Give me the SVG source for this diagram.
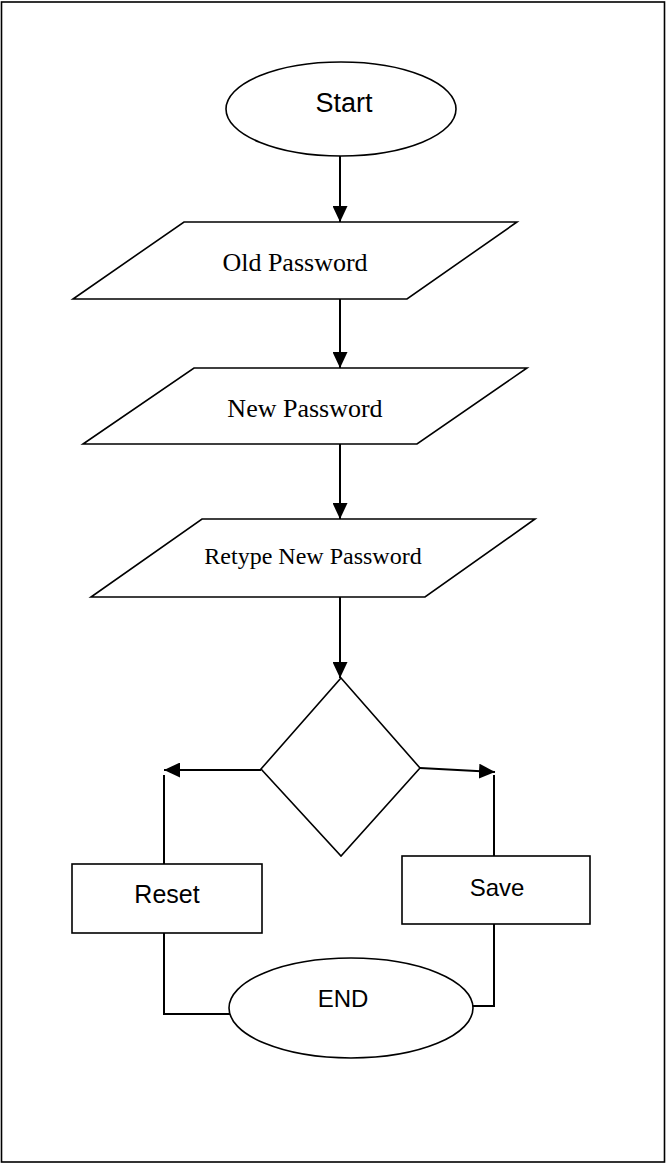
<svg xmlns="http://www.w3.org/2000/svg" width="667" height="1164" viewBox="0 0 667 1164">
  <style>
    .shape { fill: #ffffff; stroke: #000000; stroke-width: 1.6; }
    .edge { fill: none; stroke: #000000; stroke-width: 2; }
    .sans { font-family: "Liberation Sans", Arial, sans-serif; fill: #000000; text-anchor: middle; }
    .serif { font-family: "Liberation Serif", "Times New Roman", serif; fill: #000000; text-anchor: middle; }
  </style>
  <defs>
    <marker id="arrow" markerUnits="userSpaceOnUse" markerWidth="16" markerHeight="15" refX="16" refY="7.5" orient="auto">
      <path d="M0,0 L16,7.5 L0,15 Z" fill="#000000"/>
    </marker>
  </defs>

  <rect x="0" y="0" width="667" height="1164" fill="#ffffff"/>
  <!-- page frame -->
  <rect x="1.5" y="2" width="663" height="1160" fill="none" stroke="#000000" stroke-width="1.6"/>

  <!-- connectors -->
  <g id="connectors">
    <line class="edge" x1="340" y1="156" x2="340" y2="222" marker-end="url(#arrow)"/>
    <line class="edge" x1="340" y1="299" x2="340" y2="368" marker-end="url(#arrow)"/>
    <line class="edge" x1="340" y1="444" x2="340" y2="519" marker-end="url(#arrow)"/>
    <line class="edge" x1="340" y1="597" x2="340" y2="678" marker-end="url(#arrow)"/>
    <line class="edge" x1="261" y1="770" x2="164" y2="770" marker-end="url(#arrow)"/>
    <line class="edge" x1="164" y1="775" x2="164" y2="864"/>
    <line class="edge" x1="420" y1="768" x2="495" y2="772" marker-end="url(#arrow)"/>
    <line class="edge" x1="494" y1="775" x2="494" y2="856"/>
    <polyline class="edge" points="164,933 164,1014 232,1014"/>
    <polyline class="edge" points="494,924 494,1006 472,1006"/>
  </g>

  <g id="start">
    <ellipse class="shape" cx="341" cy="109" rx="115" ry="47"/>
    <text class="sans" x="344" y="112" font-size="27">Start</text>
  </g>

  <g id="old-password">
    <polygon class="shape" points="184,222 517,222 407,299 73,299"/>
    <text class="serif" x="295" y="271" font-size="26">Old Password</text>
  </g>

  <g id="new-password">
    <polygon class="shape" points="194,368 527,368 417,444 83,444"/>
    <text class="serif" x="305" y="417" font-size="26">New Password</text>
  </g>

  <g id="retype-password">
    <polygon class="shape" points="202,519 535,519 425,597 91,597"/>
    <text class="serif" x="313" y="564" font-size="24">Retype New Password</text>
  </g>

  <g id="decision">
    <polygon class="shape" points="341,678 420,768 341,856 261,769"/>
  </g>

  <g id="reset">
    <rect class="shape" x="72" y="864" width="190" height="69"/>
    <text class="sans" x="167" y="903" font-size="25">Reset</text>
  </g>

  <g id="save">
    <rect class="shape" x="402" y="856" width="188" height="68"/>
    <text class="sans" x="497" y="896" font-size="24">Save</text>
  </g>

  <g id="end">
    <ellipse class="shape" cx="351" cy="1008" rx="122" ry="50"/>
    <text class="sans" x="343" y="1007" font-size="24">END</text>
  </g>
</svg>
